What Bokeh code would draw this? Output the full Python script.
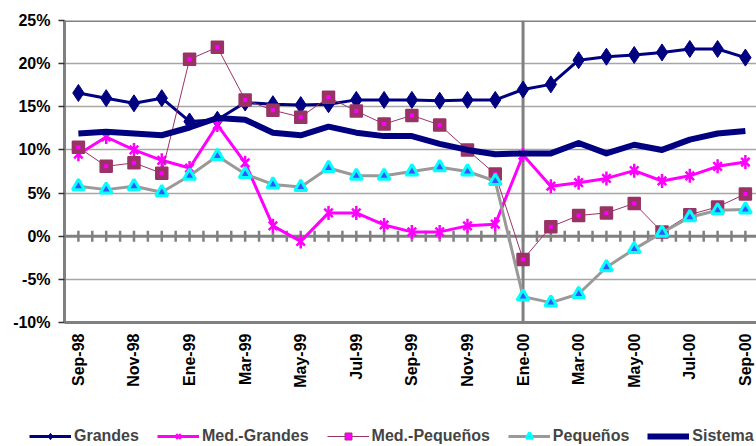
import numpy as np
from bokeh.plotting import figure
from bokeh.layouts import column
from bokeh.models import (Range1d, FixedTicker, PrintfTickFormatter, Span, Legend,
                          LegendItem, ColumnDataSource)
from bokeh.embed import file_html
from bokeh.resources import INLINE

months = ["Sep-98", "Oct-98", "Nov-98", "Dic-98", "Ene-99", "Feb-99", "Mar-99", "Abr-99",
          "May-99", "Jun-99", "Jul-99", "Ago-99", "Sep-99", "Oct-99", "Nov-99", "Dic-99",
          "Ene-00", "Feb-00", "Mar-00", "Abr-00", "May-00", "Jun-00", "Jul-00", "Ago-00", "Sep-00"]
grandes = [16.6, 16.0, 15.4, 16.0, 13.3, 13.5, 15.5, 15.3, 15.2, 15.3, 15.8, 15.8, 15.8,
           15.7, 15.8, 15.8, 17.0, 17.6, 20.4, 20.8, 21.0, 21.3, 21.7, 21.7, 20.7]
med_grandes = [9.5, 11.5, 10.0, 8.8, 7.9, 12.9, 8.5, 1.2, -0.6, 2.7, 2.7, 1.3, 0.5,
               0.5, 1.2, 1.4, 9.4, 5.8, 6.2, 6.7, 7.6, 6.4, 7.0, 8.1, 8.6]
med_pequenos = [10.3, 8.1, 8.5, 7.3, 20.5, 21.9, 15.8, 14.6, 13.8, 16.1, 14.5, 13.0, 14.0,
                12.9, 10.0, 7.2, -2.7, 1.1, 2.4, 2.7, 3.8, 0.5, 2.5, 3.4, 4.9]
pequenos = [5.8, 5.4, 5.8, 5.1, 7.0, 9.3, 7.2, 6.0, 5.7, 7.9, 7.0, 7.0, 7.5,
            8.0, 7.5, 6.4, -7.0, -7.7, -6.7, -3.6, -1.5, 0.4, 2.2, 3.0, 3.1]
sistema = [11.9, 12.1, 11.9, 11.7, 12.6, 13.7, 13.5, 12.0, 11.7, 12.7, 12.0, 11.6, 11.6,
           10.7, 10.0, 9.5, 9.6, 9.6, 10.8, 9.6, 10.6, 10.0, 11.2, 11.9, 12.2]
series_names = ["Grandes", "Med.-Grandes", "Med.-Pequeños", "Pequeños", "Sistema"]
y_ticks = [-10, -5, 0, 5, 10, 15, 20, 25]
label_every = 2
marker_month = "Ene-00"

FONT = "Liberation Sans"
GRAY = "#808080"

x = list(range(len(months)))
src = ColumnDataSource(dict(x=x, g=grandes, mg=med_grandes, mp=med_pequenos,
                            pq=pequenos, s=sistema))

p = figure(frame_width=692, frame_height=302,
           x_range=Range1d(-0.5, 24.4), y_range=Range1d(y_ticks[0], y_ticks[-1]),
           output_backend="svg", toolbar_location=None,
           min_border_left=64, min_border_right=0, min_border_top=20, min_border_bottom=96)
p.outline_line_color = None
p.background_fill_color = "white"

# grid
p.xgrid.visible = False
p.ygrid.ticker = FixedTicker(ticks=[t for t in y_ticks if t not in (0, y_ticks[0], y_ticks[-1])])
p.ygrid.grid_line_color = "#a6a6a6"
p.ygrid.grid_line_width = 1.5

# y axis
p.yaxis.ticker = FixedTicker(ticks=y_ticks)
p.yaxis.formatter = PrintfTickFormatter(format="%d%%")
p.yaxis.major_label_text_font = FONT
p.yaxis.major_label_text_font_style = "bold"
p.yaxis.major_label_text_font_size = "16px"
p.yaxis.major_label_text_color = "black"
p.yaxis.axis_line_color = GRAY
p.yaxis.axis_line_width = 3
p.yaxis.major_tick_out = 6
p.yaxis.major_tick_in = 0
p.yaxis.major_tick_line_color = "#333333"
p.yaxis.major_tick_line_width = 1.5
p.yaxis.minor_tick_line_color = None
p.yaxis.major_label_standoff = 8

# x axis
p.xaxis.ticker = FixedTicker(ticks=x[::label_every])
p.xaxis.major_label_overrides = {i: months[i] for i in x[::label_every]}
p.xaxis.major_label_orientation = np.pi / 2
p.xaxis.major_label_text_font = FONT
p.xaxis.major_label_text_font_style = "bold"
p.xaxis.major_label_text_font_size = "16px"
p.xaxis.major_label_text_color = "black"
p.xaxis.axis_line_color = GRAY
p.xaxis.axis_line_width = 3
p.xaxis.major_tick_line_color = None
p.xaxis.minor_tick_line_color = None
p.xaxis.major_label_standoff = 5

# frame lines
p.add_layout(Span(location=y_ticks[-1], dimension="width", line_color=GRAY, line_width=3))
p.add_layout(Span(location=0, dimension="width", line_color=GRAY, line_width=3, level="underlay"))
p.add_layout(Span(location=months.index(marker_month), dimension="height", line_color=GRAY,
                  line_width=3, level="underlay"))
half = np.arange(0, len(months) - 0.5 + 0.01, 0.5)
p.scatter(x=half, y=np.zeros_like(half), marker="dash", angle=np.pi / 2, size=11,
          line_color=GRAY, line_width=2.5, level="underlay")


def draw_series(fig):
    r = {}
    r["g"] = [fig.line("x", "g", source=src, line_color="#000080", line_width=3, line_join="round"),
              fig.scatter("x", "g", source=src, marker="diamond", size=17, fill_color="#000080",
                          line_color="#000080")]
    r["mg"] = [fig.line("x", "mg", source=src, line_color="#FF00FF", line_width=3, line_join="round"),
               fig.scatter("x", "mg", source=src, marker="x", size=12, line_color="#FF00FF",
                           line_width=2.5),
               fig.scatter("x", "mg", source=src, marker="dash", angle=np.pi / 2, size=14,
                           line_color="#FF00FF", line_width=2.5)]
    r["mp"] = [fig.line("x", "mp", source=src, line_color="#993366", line_width=1),
               fig.scatter("x", "mp", source=src, marker="square", size=12, fill_color="#993366",
                           line_color="#993366", line_width=1.5),
               fig.scatter("x", "mp", source=src, marker="square", size=4, fill_color="#FF00FF",
                           line_color=None)]
    r["pq"] = [fig.line("x", "pq", source=src, line_color="#999999", line_width=3, line_join="round"),
               fig.scatter("x", "pq", source=src, marker="triangle", size=12, fill_color="#3355FF",
                           line_color="#00FFFF", line_width=3)]
    r["s"] = [fig.line("x", "s", source=src, line_color="#000080", line_width=6, line_join="round")]
    return r


draw_series(p)

# legend strip (separate figure so the legend is not clipped by the plot frame)
lf = figure(frame_width=756, frame_height=28, x_range=Range1d(1000, 1001),
            y_range=Range1d(1000, 1001), output_backend="svg", toolbar_location=None,
            x_axis_type=None, y_axis_type=None, min_border=0)
lf.outline_line_color = None
lf.xgrid.visible = False
lf.ygrid.visible = False
lr = draw_series(lf)
legend = Legend(items=[LegendItem(label=n, renderers=lr[k])
                       for n, k in zip(series_names, ["g", "mg", "mp", "pq", "s"])],
                orientation="horizontal", location=(29, 1), spacing=18, glyph_width=42,
                glyph_height=16, label_height=16, label_standoff=3, padding=0, margin=0,
                border_line_color=None, background_fill_alpha=0,
                label_text_font=FONT, label_text_font_style="bold", label_text_font_size="16px")
lf.add_layout(legend)

layout = column(p, lf, spacing=0)
open("out.html", "w").write(file_html(layout, INLINE))
